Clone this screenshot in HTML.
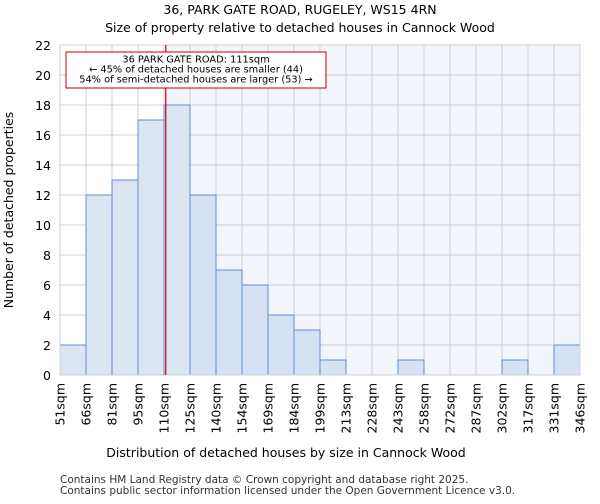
<!DOCTYPE html>
<html><head><meta charset="utf-8"><style>
body{margin:0;background:#fff;font-family:"DejaVu Sans","Liberation Sans",sans-serif;}
</style></head><body>
<svg width="600" height="500" xmlns="http://www.w3.org/2000/svg" font-family="DejaVu Sans, Liberation Sans, sans-serif">
<text x="300" y="14" text-anchor="middle" font-size="12.5">36, PARK GATE ROAD, RUGELEY, WS15 4RN</text>
<text x="300" y="32" text-anchor="middle" font-size="12.5">Size of property relative to detached houses in Cannock Wood</text>
<g id="plot"></g>
<text x="286" y="457" text-anchor="middle" font-size="12.5">Distribution of detached houses by size in Cannock Wood</text>
<text transform="translate(13,210) rotate(-90)" text-anchor="middle" font-size="12.5">Number of detached properties</text>
<text x="60" y="483" font-size="10.5" fill="#333">Contains HM Land Registry data © Crown copyright and database right 2025.</text>
<text x="60" y="494" font-size="10.5" fill="#333">Contains public sector information licensed under the Open Government Licence v3.0.</text>
</svg>
<script>
const tickLabels=["51sqm","66sqm","81sqm","95sqm","110sqm","125sqm","140sqm","154sqm","169sqm","184sqm","199sqm","213sqm","228sqm","243sqm","258sqm","272sqm","287sqm","302sqm","317sqm","331sqm","346sqm"];
const counts=[2,12,13,17,18,12,7,6,4,3,1,0,0,1,0,0,0,1,0,2];
const yTicks=[0,2,4,6,8,10,12,14,16,18,20,22];
const binStart=51, binWidth=14.75, propertySize=111;
const L=60,R=580,T=45,B=375,yMax=22;
const NS="http://www.w3.org/2000/svg";
const g=document.getElementById('plot');
const n=counts.length;
const xs=i=>L+(R-L)*i/n;
const xv=v=>L+(R-L)*(v-binStart)/(binWidth*n);
const y=v=>B-(B-T)*v/yMax;
function mk(t,a){const e=document.createElementNS(NS,t);for(const k in a)e.setAttribute(k,a[k]);g.appendChild(e);return e;}
const px=xv(propertySize);
let e=mk('rect',{x:px,y:T,width:R-px,height:B-T,fill:'#f3f5fc'});


yTicks.forEach(v=>{
 let l=mk('line',{x1:L,x2:R,y1:y(v),y2:y(v),stroke:'#d0d0d0','stroke-width':1});
 
 
 let t=mk('text',{x:L-9,y:y(v)+5,'text-anchor':'end','font-size':12.5});
 t.textContent=v;
 
 
});
tickLabels.forEach((s,i)=>{
 let l=mk('line',{x1:xs(i),x2:xs(i),y1:T,y2:B,stroke:'#d0d0d0','stroke-width':1});
 
 
 let t=mk('text',{transform:`translate(${xs(i)+4.5},${B+8}) rotate(-90)`,'text-anchor':'end','font-size':12.5});
 t.textContent=s;
 
 
});
counts.forEach((c,i)=>{
 if(c<=0)return;
 const right=xs(i)>=px-1;
 let r=mk('rect',{x:xs(i),y:y(c),width:xs(i+1)-xs(i),height:B-y(c),fill:right?'#d6e2f4':'#dce6f3',stroke:'#5b8fd6','stroke-width':1});
 
 
});
let ax=mk('rect',{x:L,y:T,width:R-L,height:B-T,fill:'none',stroke:'#d0d0d0'});


let ml=mk('line',{x1:px,x2:px,y1:T,y2:B,stroke:'#cc0000','stroke-width':1.2});


let bx=mk('rect',{x:66,y:52,width:260,height:36,fill:'#fff',stroke:'#cc0000','stroke-width':1});


["36 PARK GATE ROAD: 111sqm","← 45% of detached houses are smaller (44)","54% of semi-detached houses are larger (53) →"].forEach((s,i)=>{
 let t=mk('text',{x:196,y:62.5+i*10,'text-anchor':'middle','font-size':9.8});
 t.textContent=s;
 
 
});
</script>
</body></html>
